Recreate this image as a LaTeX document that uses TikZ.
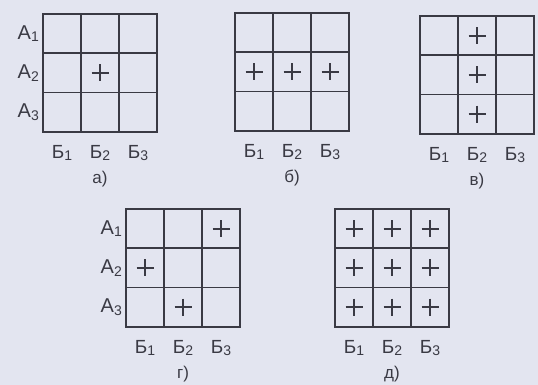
\documentclass[tikz,border=0pt]{standalone}
\usepackage{fontspec}
\setmainfont{Liberation Sans}
\usetikzlibrary{positioning}
\definecolor{paper}{HTML}{E3E5F0}
\definecolor{ink}{HTML}{3A3A44}
\newcommand\lowidx[1]{\raisebox{-2.5pt}{\fontsize{14}{14}\selectfont #1}}

\begin{document}
\begin{tikzpicture}[x=1pt,y=-1pt,
    cellline/.style={draw=ink,line width=1.7pt},
    crossline/.style={draw=ink,line width=2.1pt},
    rowlbl/.style={text=ink,font=\fontsize{20}{20}\selectfont,inner sep=0pt,anchor=east},
    collbl/.style={text=ink,font=\fontsize{19}{19}\selectfont,inner sep=0pt},
    caplbl/.style={text=ink,font=\fontsize{17}{17}\selectfont,inner sep=0pt},
    crossmark/.pic={\draw[crossline] (-8.5,0) -- (8.5,0) (0,-8.5) -- (0,8.5);}
]
\fill[paper] (0,0) rectangle (538,385);
% the five 3x3 tables
\foreach \gx/\gy/\tag/\cap in {43/14/a/а), 235/13/b/б), 420/16/v/в), 126/209/g/г), 335/209/d/д)} {
  \draw[cellline] (\gx,\gy) rectangle ++(114,118);
  \foreach \i in {1,2} {
    \draw[cellline] (\gx+38*\i,\gy) -- ++(0,118);
    \draw[cellline] (\gx,\gy+39.3*\i) -- ++(114,0);
  }
  \foreach \c in {1,2,3}
    \node[collbl] (\tag-B\c) at (\gx+19+38*\c-38,\gy+139) {Б\lowidx{\c}};
  \node[caplbl] (\tag-cap) at (\gx+57,\gy+165) {\cap};
}
% row labels
\foreach \gx/\gy/\tag in {43/14/a, 126/209/g}
  \foreach \r in {1,2,3}
    \node[rowlbl] (\tag-A\r) at (\gx-4,\gy+19.6+39.3*\r-39.3) {А\lowidx{\r}};
% crosses: table/column/row
\foreach \gx/\gy/\c/\r in {43/14/2/2,
    235/13/1/2, 235/13/2/2, 235/13/3/2,
    420/16/2/1, 420/16/2/2, 420/16/2/3,
    126/209/3/1, 126/209/1/2, 126/209/2/3,
    335/209/1/1, 335/209/2/1, 335/209/3/1,
    335/209/1/2, 335/209/2/2, 335/209/3/2,
    335/209/1/3, 335/209/2/3, 335/209/3/3}
  \pic at (\gx+19+38*\c-38,\gy+19.6+39.3*\r-39.3) {crossmark};
\end{tikzpicture}
\end{document}
